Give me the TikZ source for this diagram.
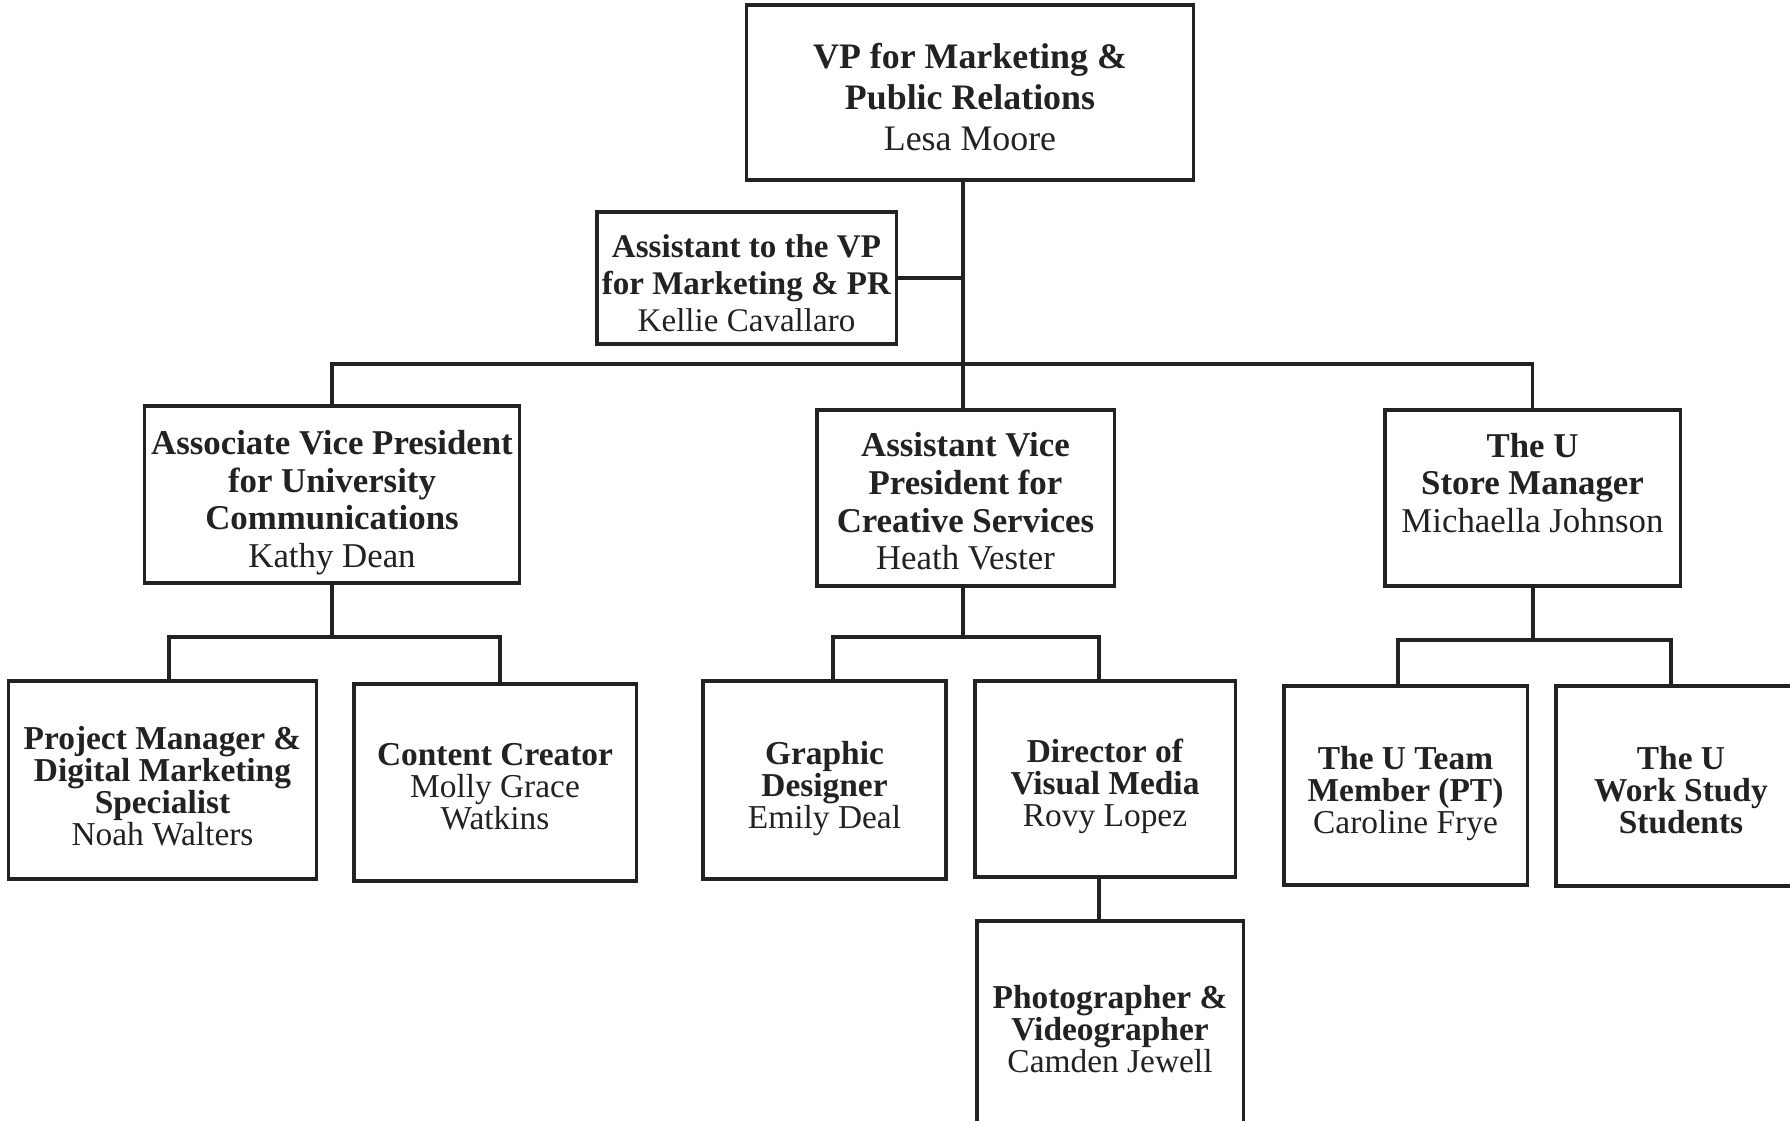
\documentclass[tikz,border=0pt]{standalone}
\usepackage{fontspec}
\setmainfont{Liberation Serif}
\usetikzlibrary{positioning,calc}
\definecolor{ink}{HTML}{222222}
\tikzset{
	box/.style={draw=ink, line width=0.9pt, inner sep=0pt},
	txt/.style={align=center, inner sep=0pt, text=ink},
	topfont/.style={font=\fontsize{10.2}{11.7}\selectfont},
	asstfont/.style={font=\fontsize{9.4}{10.5}\selectfont},
	midfont/.style={font=\fontsize{9.9}{10.7}\selectfont},
	lowfont/.style={font=\fontsize{9.5}{9.1}\selectfont},
	link/.style={draw=ink, line width=0.9pt},
}

\begin{document}
\begin{tikzpicture}[x=0.01cm, y=-0.01cm]
	\useasboundingbox (0,0) rectangle (1790,1121);
	\fill [white] (0,0) rectangle (1790,1121);
	\clip (0,0) rectangle (1790,1121);
	% boxes
	\node [box, minimum width=4.46cm, minimum height=1.75cm] (vp) at (970,92.5) {};
	\node [box, minimum width=2.99cm, minimum height=1.32cm] (asst) at (746.5,278) {};
	\node [box, minimum width=3.74cm, minimum height=1.77cm] (avpuc) at (332,494.5) {};
	\node [box, minimum width=2.97cm, minimum height=1.76cm] (avpcs) at (965.5,498) {};
	\node [box, minimum width=2.95cm, minimum height=1.76cm] (store) at (1532.5,498) {};
	\node [box, minimum width=3.07cm, minimum height=1.98cm] (pm) at (162.5,780) {};
	\node [box, minimum width=2.82cm, minimum height=1.97cm] (cc) at (495,782.5) {};
	\node [box, minimum width=2.43cm, minimum height=1.98cm] (gd) at (824.5,780) {};
	\node [box, minimum width=2.60cm, minimum height=1.96cm] (dvm) at (1105,779) {};
	\node [box, minimum width=2.66cm, minimum height=2.16cm] (photo) at (1110,1029) {};
	\node [box, minimum width=2.43cm, minimum height=1.99cm] (team) at (1405.5,785.5) {};
	\node [box, minimum width=2.50cm, minimum height=2.00cm] (ws) at (1681,786) {};
	% texts
	\node [txt, topfont] (vptext) at (970,97) {\textbf{VP for Marketing \&}\\\textbf{Public Relations}\\Lesa Moore};
	\node [txt, asstfont] (assttext) at (746.5,283) {\textbf{Assistant to the VP}\\\textbf{for Marketing \& PR}\\Kellie Cavallaro};
	\node [txt, midfont] (avpuctext) at (332,502.5) {\textbf{Associate Vice President}\\\textbf{for University}\\\textbf{Communications}\\Kathy Dean};
	\node [txt, midfont] (avpcstext) at (965.5,501.5) {\textbf{Assistant Vice}\\\textbf{President for}\\\textbf{Creative Services}\\Heath Vester};
	\node [txt, midfont] (storetext) at (1532.5,483) {\textbf{The U}\\\textbf{Store Manager}\\Michaella Johnson};
	\node [txt, lowfont] (pmtext) at (162.5,786) {\textbf{Project Manager \&}\\\textbf{Digital Marketing}\\\textbf{Specialist}\\Noah Walters};
	\node [txt, lowfont] (cctext) at (495,787) {\textbf{Content Creator}\\Molly Grace\\Watkins};
	\node [txt, lowfont] (gdtext) at (824.5,789) {\textbf{Graphic}\\\textbf{Designer}\\Emily Deal};
	\node [txt, lowfont] (dvmtext) at (1105,786) {\textbf{Director of}\\\textbf{Visual Media}\\Rovy Lopez};
	\node [txt, lowfont] (phototext) at (1110,1029) {\textbf{Photographer \&}\\\textbf{Videographer}\\Camden Jewell};
	\node [txt, lowfont] (teamtext) at (1405.5,793.5) {\textbf{The U Team}\\\textbf{Member (PT)}\\Caroline Frye};
	\node [txt, lowfont] (wstext) at (1681,790) {\textbf{The U}\\\textbf{Work Study}\\\textbf{Students}};
	% connectors
	\coordinate (trunk) at (963,364);
	\coordinate (ucbus) at (332,637);
	\coordinate (csbus) at (963,637);
	\coordinate (stbus) at (1533,640);
	\coordinate (pmdrop) at (169,681);
	\coordinate (ccdrop) at (500,684);
	\coordinate (gddrop) at (833,681);
	\coordinate (dvmdrop) at (1099,681);
	\coordinate (teamdrop) at (1398,686);
	\coordinate (wsdrop) at (1671,686);
	\coordinate (vmdrop) at (1099,877);
	\draw [link] (vp.south -| trunk) -- (avpcs.north -| trunk);
	\draw [link] (asst.east) -- (asst.east -| trunk);
	\draw [link] (avpuc.north) |- (trunk) -| (store.north);
	\draw [link] (avpuc.south) -- (ucbus);
	\draw [link] (pmdrop) |- (ucbus) -| (ccdrop);
	\draw [link] (avpcs.south -| csbus) -- (csbus);
	\draw [link] (gddrop) |- (csbus) -| (dvmdrop);
	\draw [link] (vmdrop) -- (vmdrop |- photo.north);
	\draw [link] (store.south -| stbus) -- (stbus);
	\draw [link] (teamdrop) |- (stbus) -| (wsdrop);
\end{tikzpicture}
\end{document}
